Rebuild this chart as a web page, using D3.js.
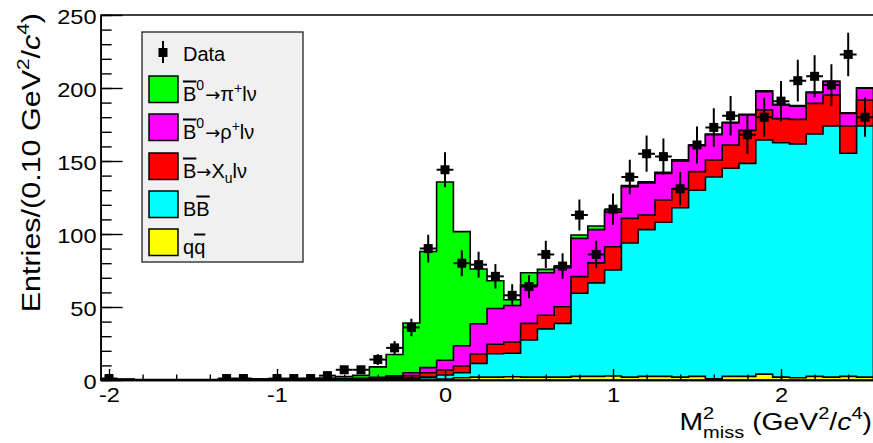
<!DOCTYPE html>
<html><head><meta charset="utf-8">
<script src="https://cdn.jsdelivr.net/npm/d3@7"></script>
<style>
body{margin:0;background:#fff}
svg{display:block}
text{font-family:"Liberation Sans",Arial,Helvetica,sans-serif;fill:#000}
</style>
</head><body>
<svg id="chart" width="873" height="443"></svg>
<script>
// ---------------- DATA ----------------
const binCenters = [-2.0,-1.9,-1.8,-1.7,-1.6,-1.5,-1.4,-1.3,-1.2,-1.1,-1.0,-0.9,-0.8,-0.7,-0.6,-0.5,-0.4,-0.3,-0.2,-0.1,
  0.0,0.1,0.2,0.3,0.4,0.5,0.6,0.7,0.8,0.9,1.0,1.1,1.2,1.3,1.4,1.5,1.6,1.7,1.8,1.9,2.0,2.1,2.2,2.3,2.4,2.5];
const binWidth = 0.1;
// stacked MC components (bottom -> top)
const qqbar  = [0.2,0.2,0.1,0.1,0.1,0.1,0.1,0.2,0.2,0.2,0.2,0.2,0.2,0.2,0.2,0.2,0.3,0.3,0.3,0.4,
  0.6,1.5,2.0,2.0,2.2,2.0,2.0,2.0,2.5,2.5,2.7,2.0,2.5,2.5,2.0,2.5,0.8,2.5,2.5,4.0,2.0,1.5,2.5,2.0,2.5,2.0];
const bbbar  = [0.1,0.1,0.05,0.05,0.05,0.05,0.05,0.1,0.1,0.1,0.1,0.15,0.2,0.2,0.2,0.3,0.4,0.7,1.0,1.6,
  2.8,3.5,9.4,16.0,16.1,25.4,33.0,36.8,56.9,64.0,72.6,91.8,100.5,105.5,116.0,127.5,138.2,142.5,145.9,160.4,160.5,160.1,166.0,172.0,152.8,172.0];
const xulnu  = [0.05,0.05,0.05,0.05,0.05,0.05,0.05,0.05,0.05,0.1,0.1,0.1,0.1,0.15,0.2,0.3,0.5,0.8,1.7,3.0,
  3.4,4.6,6.4,6.5,7.7,11.4,9.3,11.4,11.4,13.7,16.0,16.9,10.0,15.3,13.0,12.7,11.7,16.0,22.6,20.6,16.5,16.9,21.0,21.2,18.7,17.8];
const rholnu = [0.05,0.05,0,0,0,0,0,0.05,0.05,0.05,0.1,0.1,0.1,0.15,0.3,0.4,0.6,1.0,2.0,3.5,
  6.7,13.9,20.7,24.5,25.0,26.2,29.2,26.8,26.2,22.8,23.7,21.7,22.0,18.2,19.0,17.8,17.3,15.0,10.5,12.5,9.4,9.0,7.3,9.1,8.6,8.0];
const pilnu  = [0.1,0.1,0.05,0.05,0.05,0.05,0.1,0.1,0.1,0.15,0.2,0.25,0.4,0.7,1.4,2.0,7.2,14.7,34.0,79.5,
  122.1,78.1,37.5,19.0,4.0,8.5,2.3,1.0,2.3,2.5,1.5,0.8,0.8,0.8,0.8,0.5,0.5,0.5,0.5,0.5,0.4,0.4,0.4,0.4,0.4,0.4];
// data (0 = empty bin, not drawn)
const dataCounts = [1,0,0,0,0,0,0,1,1,0,1,1,1,3,7,7,14,22,36,90,
  144,80,79,71,58,64,86,78,113,86,117,139,155,153,131,161,173,181,168,180,191,205,208,202,223,180];
const dataErrors = [1,0,0,0,0,0,0,1,1,0,1,1,1,1.7,2.6,2.6,3.7,4.7,6,9.5,
  12,8.9,8.9,8.4,7.6,8,9.3,8.8,10.6,9.3,10.8,11.8,12.4,12.4,11.4,12.7,13.2,13.5,13,13.4,13.8,14.3,14.4,14.2,14.9,13.4];
const xTicks = [-2,-1,0,1,2];
const yTicks = [0,50,100,150,200,250];
const xDomain = [-2.05, 2.55];
const yDomain = [0, 250];

const seriesKeys   = ["qq","bb","xu","rho","pi"];
const seriesColors = {qq:"#ffff00", bb:"#00ffff", xu:"#ff0000", rho:"#ff00ff", pi:"#00ff00"};

// ---------------- LAYOUT ----------------
const svg = d3.select("#chart");
const x = d3.scaleLinear().domain(xDomain).range([100.6, 873.4]);
const y = d3.scaleLinear().domain(yDomain).range([380, 15]);
const STRETCH = 1.18;   // axis text in the original is horizontally wide

const rows = binCenters.map((c,i)=>({c, qq:qqbar[i], bb:bbbar[i], xu:xulnu[i], rho:rholnu[i], pi:pilnu[i]}));
const stacked = d3.stack().keys(seriesKeys)(rows);

svg.append("defs").append("clipPath").attr("id","plotclip")
  .append("rect").attr("x",x(xDomain[0])).attr("y",y(yDomain[1])).attr("width",x(xDomain[1])-x(xDomain[0])).attr("height",y(0)-y(yDomain[1]));

const plot = svg.append("g").attr("clip-path","url(#plotclip)");

// faint blue baseline
plot.append("line").attr("x1",x(xDomain[0])).attr("x2",x(xDomain[1]))
  .attr("y1",y(0)+1.6).attr("y2",y(0)+1.6).attr("stroke","#a8a8f0").attr("stroke-width",1.2);

const stepLine = d3.line().x(d=>x(d[0])).y(d=>y(d[1]));
function stepPoints(layer){
  const pts = [[xDomain[0],0]];
  layer.forEach((d,i)=>{
    const c = binCenters[i];
    pts.push([c-binWidth/2, d[1]]);
    pts.push([c+binWidth/2, d[1]]);
  });
  pts.push([xDomain[1],0]);
  return pts;
}
stacked.slice().reverse().forEach(layer=>{
  plot.append("path")
    .attr("d", stepLine(stepPoints(layer)) + "Z")
    .attr("fill", seriesColors[layer.key])
    .attr("stroke","#000").attr("stroke-width",1.6).attr("stroke-linejoin","miter");
});

// data points
const pts = binCenters.map((c,i)=>({c, v:dataCounts[i], e:dataErrors[i]})).filter(d=>d.v>0);
const dg = plot.append("g");
pts.forEach(d=>{
  dg.append("line").attr("x1",x(d.c)).attr("x2",x(d.c)).attr("y1",y(d.v-d.e)).attr("y2",y(d.v+d.e))
    .attr("stroke","#000").attr("stroke-width",2);
  dg.append("line").attr("x1",x(d.c-binWidth/2)).attr("x2",x(d.c+binWidth/2)).attr("y1",y(d.v)).attr("y2",y(d.v))
    .attr("stroke","#000").attr("stroke-width",2);
  dg.append("rect").attr("x",x(d.c)-4.5).attr("y",y(d.v)-4.5).attr("width",9).attr("height",9).attr("fill","#000");
});

// ---------------- AXES ----------------
svg.append("line").attr("x1",x(xDomain[0])).attr("x2",x(xDomain[1])).attr("y1",y(yDomain[1])).attr("y2",y(yDomain[1])).attr("stroke","#000").attr("stroke-width",1.5);

const yAxisMinor = d3.axisLeft(y).tickValues(d3.range(0,251,10)).tickSize(-11).tickSizeOuter(0).tickFormat("");
const yAxisMajor = d3.axisLeft(y).tickValues(yTicks).tickSize(-22).tickSizeOuter(0).tickPadding(4).tickFormat(d=>String(d));
const gy1 = svg.append("g").attr("transform",`translate(${x(xDomain[0])},0)`).call(yAxisMinor);
const gy2 = svg.append("g").attr("transform",`translate(${x(xDomain[0])},0)`).call(yAxisMajor);
const xAxisMinor = d3.axisBottom(x).tickValues(d3.range(-2,2.55,0.2)).tickSize(-5.5).tickSizeOuter(0).tickFormat("");
const xAxisMajor = d3.axisBottom(x).tickValues(xTicks).tickSize(-11).tickSizeOuter(0).tickPadding(8).tickFormat(d=>String(d));
const gx1 = svg.append("g").attr("transform",`translate(0,${y(0)})`).call(xAxisMinor);
const gx2 = svg.append("g").attr("transform",`translate(0,${y(0)})`).call(xAxisMajor);
[gy1,gy2,gx1,gx2].forEach(g=>{
  g.selectAll("path.domain").attr("stroke","#000").attr("stroke-width",1.6);
  g.selectAll(".tick line").attr("stroke","#000").attr("stroke-width",1.4);
  g.selectAll(".tick text").attr("font-size",20).attr("font-family",'"Liberation Sans",Arial,sans-serif').attr("fill","#000");
});
gy2.selectAll(".tick text").attr("dy","0.42em").attr("x",-4/STRETCH).attr("transform",`scale(${STRETCH},1)`);
gx2.selectAll(".tick text").attr("transform",`scale(${STRETCH},1)`);

function richText(sel, pieces){
  pieces.forEach(p=>{
    const t = sel.append("tspan").text(p.t);
    if(p.size) t.attr("font-size",p.size);
    if(p.dy) t.attr("dy",p.dy);
    if(p.dx) t.attr("dx",p.dx);
    if(p.italic) t.attr("font-style","italic");
    if(p.over) t.attr("text-decoration","overline");
    if(p.font) t.attr("font-family",p.font);
    p.node = t.node();
  });
  return pieces;
}

// x axis title
const xt = svg.append("text").attr("transform",`translate(872,430) scale(${STRETCH},1)`).attr("text-anchor","end").attr("font-size",24);
const xp = richText(xt,[
  {t:"M"},
  {t:"2",size:17,dy:-11},
  {t:"miss",size:17,dy:19},
  {t:" (GeV",dy:-8},
  {t:"2",size:17,dy:-11},
  {t:"/",dy:11},
  {t:"c",italic:true},
  {t:"4",size:17,dy:-11},
  {t:")",dy:11}
]);
d3.select(xp[2].node).attr("dx", -xp[1].node.getComputedTextLength());

// y axis title
const yt = svg.append("text").attr("transform",`translate(40,13) rotate(-90) scale(1.22,1)`).attr("text-anchor","end").attr("font-size",25);
richText(yt,[
  {t:"Entries/(0.10 GeV"},
  {t:"2",size:17,dy:-11},
  {t:"/",dy:11},
  {t:"c",italic:true},
  {t:"4",size:17,dy:-11},
  {t:")",dy:11}
]);

// ---------------- LEGEND ----------------
const lg = svg.append("g");
lg.append("rect").attr("x",142).attr("y",32).attr("width",161).attr("height",230)
  .attr("fill","#f0f0f0").attr("stroke","#222").attr("stroke-width",1.3);
lg.append("line").attr("x1",163).attr("x2",163).attr("y1",41).attr("y2",63).attr("stroke","#000").attr("stroke-width",2);
lg.append("rect").attr("x",158.5).attr("y",48).attr("width",9).attr("height",9).attr("fill","#000");
lg.append("text").attr("x",183).attr("y",60.5).attr("font-size",20).text("Data");

const ARROW_FONT = '"DejaVu Sans",sans-serif';
const legendItems = [
  {key:"pi",  y:76,  pieces:[{t:"B",over:true},{t:"0",size:14,dy:-11},{t:"\u2192",size:18,dy:11,dx:1,font:ARROW_FONT},{t:"\u03c0"},{t:"+",size:14,dy:-8},{t:"l\u03bd",dy:8}]},
  {key:"rho", y:114, pieces:[{t:"B",over:true},{t:"0",size:14,dy:-11},{t:"\u2192",size:18,dy:11,dx:1,font:ARROW_FONT},{t:"\u03c1"},{t:"+",size:14,dy:-8},{t:"l\u03bd",dy:8}]},
  {key:"xu",  y:153, pieces:[{t:"B",over:true},{t:"\u2192",size:18,font:ARROW_FONT},{t:"X"},{t:"u",size:14,dy:5},{t:"l\u03bd",dy:-5}]},
  {key:"bb",  y:191, pieces:[{t:"B"},{t:"B",over:true}]},
  {key:"qq",  y:229, pieces:[{t:"q"},{t:"q",over:true}]}
];
legendItems.forEach(it=>{
  lg.append("rect").attr("x",149).attr("y",it.y).attr("width",29).attr("height",26.5)
    .attr("fill",seriesColors[it.key]).attr("stroke","#000").attr("stroke-width",1.5);
  const t = lg.append("text").attr("x",183).attr("y",it.y+24.5).attr("font-size",20);
  richText(t, it.pieces);
});
</script>
</body></html>
